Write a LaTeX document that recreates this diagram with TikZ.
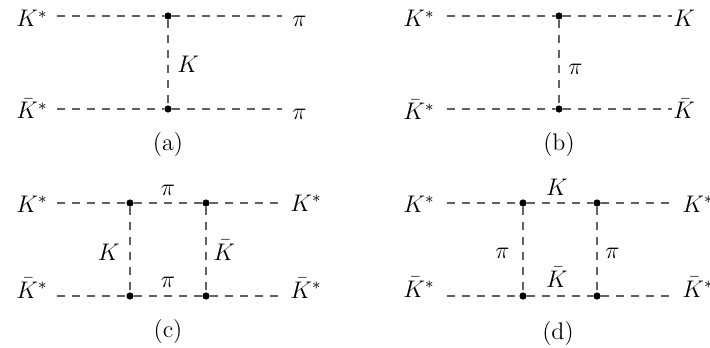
\documentclass[tikz,border=0pt]{standalone}
\begin{document}
\begin{tikzpicture}[x=0.5pt,y=-0.5pt,
  prop/.style={dashed, dash pattern=on 4pt off 3.5pt, line width=0.6pt, draw=black!62},
  lab/.style={inner sep=0pt, font=\fontsize{12}{14}\selectfont},
  vtx/.style={circle, fill=black, inner sep=0pt, minimum size=3.6pt},
  subcap/.style={inner sep=0pt, font=\fontsize{12}{14}\selectfont}]
\path[use as bounding box] (0,0) rectangle (710,347);

% ---------- (a)
\node[lab, anchor=base east] (aKs) at (48,27) {$K^*$};
\node[lab, anchor=base east] (aKbs) at (48,119) {$\bar K^*$};
\node[lab, anchor=base west] (api1) at (292,27) {$\pi$};
\node[lab, anchor=base west] (api2) at (292,120) {$\pi$};
\coordinate (aL1) at (57,16); \coordinate (aR1) at (282,16);
\coordinate (aL2) at (57,109); \coordinate (aR2) at (282,109);
\node[vtx] (av1) at (168,16) {};
\node[vtx] (av2) at (168,109) {};
\draw[prop] (aL1) -- (av1) -- (aR1);
\draw[prop] (aL2) -- (av2) -- (aR2);
\draw[prop] (av1) -- (av2);
\node[lab, anchor=base west] (aK) at (177,73) {$K$};
\node[subcap] (acap) at (168,145) {(a)};

% ---------- (b)
\node[lab, anchor=base east] (bKs) at (435,27) {$K^*$};
\node[lab, anchor=base east] (bKbs) at (435,120) {$\bar K^*$};
\node[lab, anchor=base west] (bK1) at (673,27) {$K$};
\node[lab, anchor=base west] (bK2) at (673,119) {$\bar K$};
\coordinate (bL1) at (447,16); \coordinate (bR1) at (672,16);
\coordinate (bL2) at (447,109); \coordinate (bR2) at (672,109);
\node[vtx] (bv1) at (559,16) {};
\node[vtx] (bv2) at (559,109) {};
\draw[prop] (bL1) -- (bv1) -- (bR1);
\draw[prop] (bL2) -- (bv2) -- (bR2);
\draw[prop] (bv1) -- (bv2);
\node[lab, anchor=base west] (bpi) at (568,75) {$\pi$};
\node[subcap] (bcap) at (559,145) {(b)};

% ---------- (c)
\node[lab, anchor=base east] (cKs) at (48,212) {$K^*$};
\node[lab, anchor=base east] (cKbs) at (48,298) {$\bar K^*$};
\node[lab, anchor=base west] (cKs2) at (290,211) {$K^*$};
\node[lab, anchor=base west] (cKbs2) at (290,298) {$\bar K^*$};
\coordinate (cL1) at (57,203); \coordinate (cR1) at (282,203);
\coordinate (cL2) at (57,296); \coordinate (cR2) at (282,296);
\node[vtx] (cv1) at (130,203) {};
\node[vtx] (cv2) at (206,203) {};
\node[vtx] (cv3) at (130,296) {};
\node[vtx] (cv4) at (206,296) {};
\draw[prop] (cL1) -- (cv1) -- (cv2) -- (cR1);
\draw[prop] (cL2) -- (cv3) -- (cv4) -- (cR2);
\draw[prop] (cv1) -- (cv3);
\draw[prop] (cv2) -- (cv4);
\node[lab, anchor=base] (cpi1) at (168,195) {$\pi$};
\node[lab, anchor=base] (cpi2) at (168,287) {$\pi$};
\node[lab, anchor=base east] (cK) at (120,260) {$K$};
\node[lab, anchor=base west] (cKb) at (213,260) {$\bar K$};
\node[subcap] (ccap) at (168,332) {(c)};

% ---------- (d)
\node[lab, anchor=base east] (dKs) at (435,212) {$K^*$};
\node[lab, anchor=base east] (dKbs) at (435,297) {$\bar K^*$};
\node[lab, anchor=base west] (dKs2) at (682,212) {$K^*$};
\node[lab, anchor=base west] (dKbs2) at (682,297) {$\bar K^*$};
\coordinate (dL1) at (447,203); \coordinate (dR1) at (672,203);
\coordinate (dL2) at (447,296); \coordinate (dR2) at (672,296);
\node[vtx] (dv1) at (523,203) {};
\node[vtx] (dv2) at (597,203) {};
\node[vtx] (dv3) at (523,296) {};
\node[vtx] (dv4) at (597,296) {};
\draw[prop] (dL1) -- (dv1) -- (dv2) -- (dR1);
\draw[prop] (dL2) -- (dv3) -- (dv4) -- (dR2);
\draw[prop] (dv1) -- (dv3);
\draw[prop] (dv2) -- (dv4);
\node[lab, anchor=base] (dK) at (557,195) {$K$};
\node[lab, anchor=base] (dKb) at (557,287) {$\bar K$};
\node[lab, anchor=base east] (dpi1) at (510,258) {$\pi$};
\node[lab, anchor=base west] (dpi2) at (605,258) {$\pi$};
\node[subcap] (dcap) at (558,334) {(d)};
\end{tikzpicture}
\end{document}
